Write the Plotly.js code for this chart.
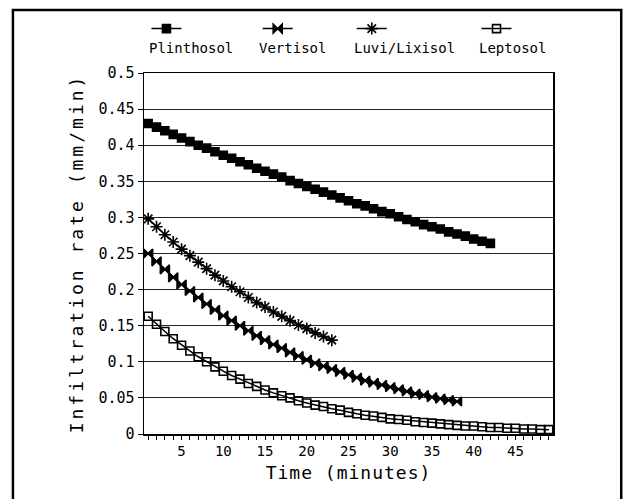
<!DOCTYPE html>
<html>
<head>
<meta charset="utf-8">
<script src="https://cdn.plot.ly/plotly-3.0.1.min.js"></script>
<style>
html,body{margin:0;padding:0;background:#fff;}
#chart{width:632px;height:499px;}
.ytitle{letter-spacing:3px;}
.xtitle{letter-spacing:1px;}
</style>
</head>
<body>
<div id="chart"></div>
<script>
// Series names (legend labels)
const seriesNames = ["Plinthosol", "Vertisol", "Luvi/Lixisol", "Leptosol"];

// Infiltration rate (mm/min), one value per minute starting at minute 1
const plinthosol = [0.430,0.425,0.420,0.415,0.410,0.405,0.400,0.396,0.391,0.386,0.382,0.377,0.373,0.368,0.364,0.360,0.356,0.351,0.347,0.343,0.339,0.335,0.331,0.327,0.323,0.319,0.316,0.312,0.308,0.305,0.301,0.297,0.294,0.290,0.287,0.284,0.280,0.277,0.274,0.270,0.267,0.264];
const vertisol = [0.250,0.239,0.228,0.217,0.207,0.198,0.189,0.180,0.172,0.164,0.157,0.150,0.143,0.136,0.130,0.124,0.119,0.113,0.108,0.103,0.098,0.094,0.090,0.086,0.082,0.078,0.074,0.071,0.068,0.065,0.062,0.059,0.056,0.054,0.051,0.049,0.047,0.045];
const luviLixisol = [0.298,0.287,0.276,0.266,0.256,0.247,0.238,0.229,0.220,0.212,0.204,0.197,0.189,0.182,0.176,0.169,0.163,0.157,0.151,0.146,0.140,0.135,0.130];
const leptosol = [0.163,0.152,0.142,0.132,0.123,0.115,0.107,0.100,0.093,0.087,0.081,0.076,0.070,0.066,0.061,0.057,0.053,0.050,0.046,0.043,0.040,0.038,0.035,0.033,0.030,0.028,0.026,0.025,0.023,0.021,0.020,0.019,0.017,0.016,0.015,0.014,0.013,0.012,0.011,0.011,0.010,0.009,0.009,0.008,0.008,0.007,0.007,0.006,0.006];

// Axis tick labels
const xTickVals = [5,10,15,20,25,30,35,40,45];
const yTickVals = [0,0.05,0.1,0.15,0.2,0.25,0.3,0.35,0.4,0.45,0.5];

const seriesValues = [plinthosol, vertisol, luviLixisol, leptosol];
const symbols = ["square", "bowtie", "asterisk-open", "square-open"];
const sizes = [8, 9, 10, 8];
const legendX = [0.006, 0.278, 0.508, 0.813];
const legendIds = ["legend", "legend2", "legend3", "legend4"];
const labelX = [147, 257, 352, 477];

const FONT = "DejaVu Sans Mono, monospace";

const traces = [];
seriesValues.forEach((vals, i) => {
  const minutes = vals.map((_, k) => k + 1);
  traces.push({
    type: "scatter", mode: "lines+markers",
    x: minutes, y: vals, name: seriesNames[i],
    showlegend: false,
    line: {color: "#000", width: 1.5},
    marker: {symbol: symbols[i], size: sizes[i], color: "#000",
             line: {color: "#000", width: 1.6}}
  });
  // legend sample (no data)
  traces.push({
    type: "scatter", mode: "lines+markers",
    x: [null], y: [null], name: "",
    legend: legendIds[i], showlegend: true, hoverinfo: "skip",
    line: {color: "#000", width: 1.5},
    marker: {symbol: symbols[i], size: sizes[i], color: "#000",
             line: {color: "#000", width: 1.6}}
  });
});

const pw = 408.8, ph = 361, l = 144, t = 73;
function px2x(p){ return (p - l) / pw; }
function py2y(p){ return (t + ph - p) / ph; }

const legends = {};
legendIds.forEach((id, i) => {
  legends[id] = {
    x: legendX[i], xanchor: "left", y: py2y(29), yanchor: "middle",
    orientation: "h", bgcolor: "rgba(0,0,0,0)", borderwidth: 0,
    font: {family: FONT, size: 14, color: "#000"},
    itemwidth: 30, tracegroupgap: 0
  };
});

const annotations = seriesNames.map((nm, i) => ({
  xref: "paper", yref: "paper", x: px2x(labelX[i]), y: py2y(48),
  xanchor: "left", yanchor: "middle", showarrow: false, text: nm,
  font: {family: FONT, size: 14, color: "#000"}
}));

const layout = Object.assign({
  width: 632, height: 499,
  margin: {l: l, r: 632 - l - pw, t: t, b: 499 - t - ph, pad: 0},
  paper_bgcolor: "#fff", plot_bgcolor: "#fff",
  font: {family: FONT, color: "#000", size: 15},
  xaxis: {
    range: [0.5, 49.5], tickvals: xTickVals, ticktext: xTickVals.map(String),
    ticks: "outside", ticklen: 4, tickwidth: 1, tickcolor: "#000",
    minor: {dtick: 1, tick0: 0, ticks: "outside", ticklen: 4, tickwidth: 1, tickcolor: "#000", showgrid: false},
    showgrid: false, zeroline: false,
    showline: true, linecolor: "#000", linewidth: 1.5, mirror: true,
    tickfont: {family: FONT, size: 14, color: "#000"},
    title: {text: "Time (minutes)", font: {family: FONT, size: 18, color: "#000"}, standoff: 8}
  },
  yaxis: {
    range: [0, 0.5], tickvals: yTickVals, ticktext: yTickVals.map(String),
    ticks: "outside", ticklen: 5, tickwidth: 1, tickcolor: "#000",
    showgrid: true, gridcolor: "#222", gridwidth: 1, zeroline: false,
    showline: true, linecolor: "#000", linewidth: 1.5, mirror: true,
    tickfont: {family: FONT, size: 15, color: "#000"},
    title: {text: "Infiltration rate (mm/min)", font: {family: FONT, size: 18, color: "#000"}, standoff: 10}
  },
  annotations: annotations,
  shapes: [{
    type: "rect", xref: "paper", yref: "paper",
    x0: px2x(13), x1: px2x(621), y0: py2y(515), y1: py2y(10),
    line: {color: "#000", width: 2.5}, fillcolor: "rgba(0,0,0,0)", layer: "below"
  }]
}, legends);

Plotly.newPlot("chart", traces, layout, {staticPlot: true, displayModeBar: false});
</script>
</body>
</html>
